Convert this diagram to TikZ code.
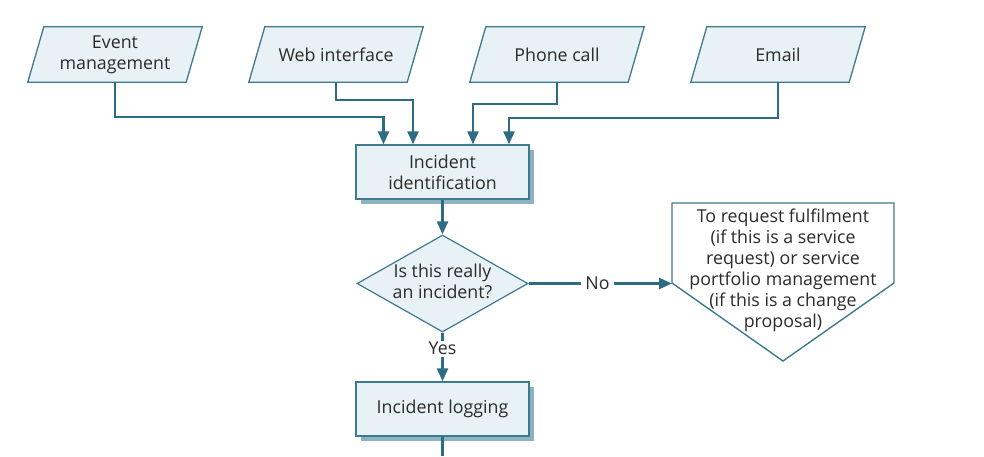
\documentclass[tikz,border=0pt]{standalone}
\usepackage{fontspec}
\setmainfont{Open Sans}
\usetikzlibrary{arrows.meta,shapes.geometric,shadows,calc,backgrounds}
\definecolor{fillc}{HTML}{E8F1F5}
\definecolor{edgec}{HTML}{3E7A8E}
\definecolor{linec}{HTML}{2E6C83}
\definecolor{shadc}{HTML}{8DB3C3}
\definecolor{textc}{HTML}{2B2B2B}
\begin{document}
\begin{tikzpicture}[x=1pt,y=-1pt,
  font=\fontsize{17.8}{21}\selectfont, text=textc,
  iobox/.style={rectangle, minimum width=158pt, minimum height=55pt,
    inner sep=0pt, align=center},
  iodraw/.style={draw=edgec, line width=1.3pt, fill=fillc},
  procbox/.style={rectangle, draw=edgec, line width=1.3pt, fill=fillc,
    minimum width=173pt, minimum height=54pt, align=center,
    drop shadow={shadow xshift=5pt, shadow yshift=-5pt, fill=shadc, opacity=1}},
  decbox/.style={diamond, draw=edgec, line width=1.2pt, fill=fillc,
    minimum width=171pt, minimum height=97pt, inner sep=0pt},
  conn/.style={draw=linec, line width=2.4pt, -{Triangle[length=13pt,width=11pt]}},
  plainline/.style={draw=linec, line width=2.4pt},
  lbl/.style={fill=white, inner xsep=4pt, inner ysep=1pt}
]
\useasboundingbox (0,0) rectangle (984,456);

% input parallelograms (text nodes; outlines drawn on the background layer)
\node[iobox] (ev)  at (115,54.5) {Event\\management};
\node[iobox] (web) at (336,54.5) {Web interface};
\node[iobox] (ph)  at (557,54.5) {Phone call};
\node[iobox] (em)  at (778,54.5) {Email};
\begin{scope}[on background layer]
\foreach \n in {ev,web,ph,em}{
  \draw[iodraw] ($(\n.south west)+(-8,0)$) -- ($(\n.south east)+(-8,0)$)
    -- ($(\n.north east)+(8,0)$) -- ($(\n.north west)+(8,0)$) -- cycle;
}
\end{scope}

% process boxes
\node[procbox] (id)  at (442.5,172) {Incident\\identification};
\node[decbox]  (dec) at (442.5,283.5) {\makebox[0pt]{\raisebox{-2.5pt}{\begin{tabular}{@{}c@{}}Is this really\\an incident?\end{tabular}}}};
\node[procbox] (log) at (442.5,409) {Incident logging};

% pentagon (off-page connector)
\coordinate (pc) at (783,270);
\draw[draw=edgec, line width=1.4pt, fill=white]
  ($(pc)+(-111,-67)$) -- ($(pc)+(111,-67)$) -- ($(pc)+(111,13)$)
  -- ($(pc)+(0,91)$) -- ($(pc)+(-111,13)$) -- cycle;
\coordinate (pl) at ($(pc)+(-111,13.5)$);
\node[align=center] (p) at (pc) {To request fulfilment\\(if this is a service\\request) or service\\portfolio management\\(if this is a change\\proposal)};

% arrow targets on top of identification box
\coordinate (t1) at ($(id.north)+(-59,0)$);
\coordinate (t2) at ($(id.north)+(-29.5,0)$);
\coordinate (t3) at ($(id.north)+(30.5,0)$);
\coordinate (t4) at ($(id.north)+(66.5,0)$);
\coordinate (h1) at (0,117);
\coordinate (h2) at (0,100);
\coordinate (h3) at (0,104);
\coordinate (h4) at (0,118);

\draw[conn] (ev.south)  |- (t1 |- h1) -- (t1);
\draw[conn] (web.south) |- (t2 |- h2) -- (t2);
\draw[conn] (ph.south)  |- (t3 |- h3) -- (t3);
\draw[conn] (em.south)  |- (t4 |- h4) -- (t4);

\draw[conn] (id.south) -- (dec.north);
\draw[conn] (dec.east) -- node[lbl, pos=0.48] {No} (pl);
\draw[conn] (dec.south) -- node[lbl, pos=0.33, inner ysep=1.5pt] {Yes} (log.north);

\coordinate (bend) at (442.5,456);
\draw[plainline] (log.south) -- (bend);
\end{tikzpicture}
\end{document}
